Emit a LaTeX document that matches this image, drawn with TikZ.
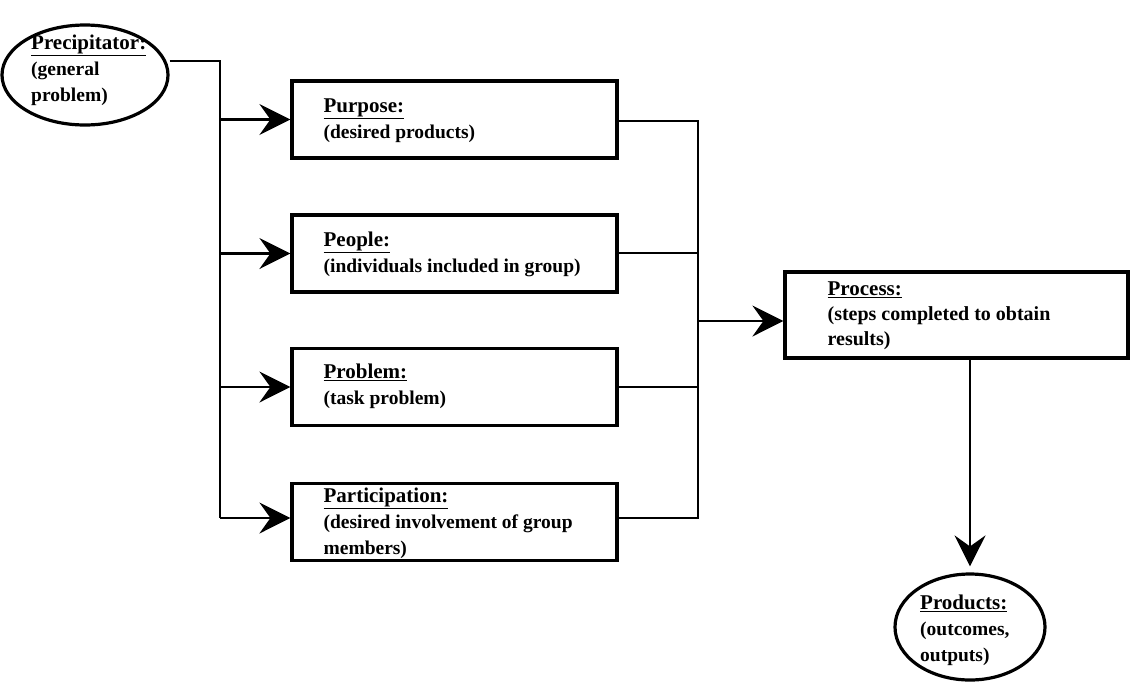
\documentclass[tikz,border=0pt]{standalone}
\usepackage{fontspec}
\setmainfont{Liberation Serif}
\usetikzlibrary{arrows.meta,shapes.geometric}
\newcommand{\ttl}[1]{{\fontsize{21}{26}\selectfont\underline{#1}}}
\tikzset{
  x=1pt, y=-1pt,
  every node/.style={font=\fontsize{19.5}{26}\selectfont\bfseries},
  stepbox/.style={draw, line width=3.2pt, minimum width=325pt, minimum height=77pt, inner sep=0pt},
  oval/.style={draw, ellipse, line width=3.2pt, inner sep=0pt},
  txt/.style={align=left, anchor=west, inner sep=0pt},
  conn/.style={line width=2.2pt},
  arr/.style={conn, -{Stealth[length=31pt, width=31pt, inset=11pt]}},
}
\begin{document}
\begin{tikzpicture}
\useasboundingbox (0,0) rectangle (1131,681);

% left ellipse with its text
\node[oval, minimum width=166pt, minimum height=100pt] (prec) at (85,75) {};
\node[txt] (prect) at (31,70) {\ttl{Precipitator:}\\(general\\problem)};

% the four boxes of the middle column
\node[stepbox] (purp) at (454.5,119.5) {};
\node[txt] (purpt) at ([xshift=33pt,yshift=-1pt]purp.west) {\ttl{Purpose:}\\(desired products)};
\node[stepbox] (peop) at (454.5,253.5) {};
\node[txt] (peopt) at ([xshift=33pt,yshift=-1pt]peop.west) {\ttl{People:}\\(individuals included in group)};
\node[stepbox] (prob) at (454.5,387) {};
\node[txt] (probt) at ([xshift=33pt,yshift=1pt]prob.west) {\ttl{Problem:}\\(task problem)};
\node[stepbox] (part) at (454.5,522) {};
\node[txt] (partt) at ([xshift=33pt,yshift=-1pt]part.west) {\ttl{Participation:}\\(desired involvement of group\\members)};

% process box and products ellipse
\node[stepbox, minimum width=343pt, minimum height=86pt] (proc) at (956.5,315) {};
\node[txt, font=\fontsize{20}{25}\selectfont\bfseries] (proct) at ([xshift=44pt,yshift=-1pt]proc.west) {\ttl{Process:}\\(steps completed to obtain\\results)};
\node[oval, minimum width=150pt, minimum height=106pt] (prod) at (970,627) {};
\node[txt] (prodt) at (920,630) {\ttl{Products:}\\(outcomes,\\outputs)};

% branching from the precipitator
\coordinate (sl) at (220,61);
\coordinate (sb) at (220,518);
\draw[conn] (prec.east |- sl) -- (sl) -- (sb);
\draw[arr] (sl |- purp.west) -- (purp.west);
\draw[arr] (sl |- peop.west) -- (peop.west);
\draw[arr] (sl |- prob.west) -- (prob.west);
\draw[arr] (sb) -- (sb -| part.west);

% joining into the process
\coordinate (jt) at (698,121);
\coordinate (jb) at (698,518);
\draw[conn] (purp.east |- jt) -- (jt) -- (jb) -- (jb -| part.east);
\draw[conn] (peop.east |- 0,253) -- (698,253);
\draw[conn] (prob.east) -- (698,387);
\draw[arr] (698,321) -- (proc.west |- 0,321);

% process to products
\draw[arr, shorten >=6pt] (proc.south -| prod.north) -- (prod.north);
\end{tikzpicture}
\end{document}
